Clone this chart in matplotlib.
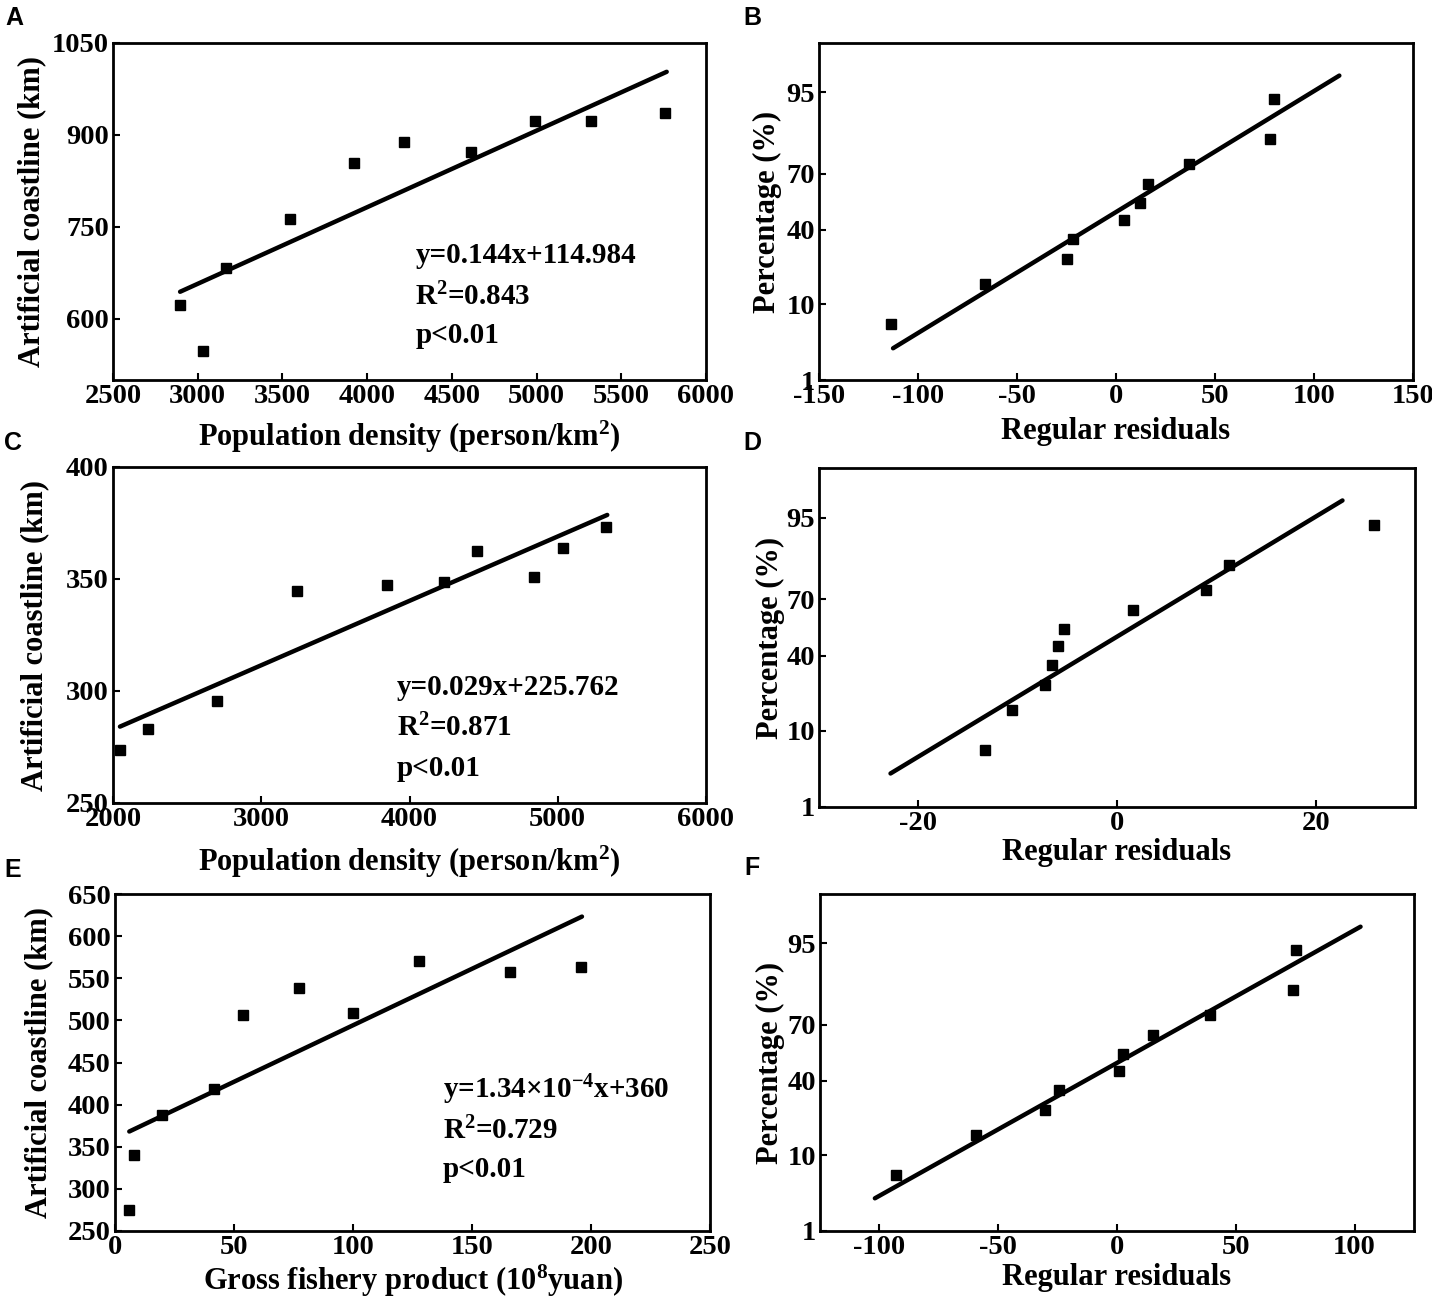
import numpy as np
import matplotlib
matplotlib.use("Agg")
import matplotlib.pyplot as plt
from statistics import NormalDist

plt.rcParams['font.family'] = ['Liberation Serif', 'DejaVu Serif']
plt.rcParams['font.weight'] = 'bold'
plt.rcParams['axes.labelweight'] = 'bold'
plt.rcParams['mathtext.fontset'] = 'custom'
plt.rcParams['mathtext.rm'] = 'Liberation Serif:bold'
plt.rcParams['mathtext.bf'] = 'Liberation Serif:bold'
plt.rcParams['mathtext.it'] = 'Liberation Serif:bold:italic'
plt.rcParams['axes.unicode_minus'] = False

# ---- panel A: population density vs artificial coastline
a_x = [2896, 3030, 3168, 3547, 3920, 4216, 4612, 4991, 5322, 5760]
a_y = [623, 547, 683, 763, 854, 888, 872, 922, 922, 936]
a_fit_x = [2896, 5768]
a_fit_y = [644, 1003]

# ---- panel C
c_x = [2047, 2233, 2700, 3241, 3846, 4233, 4457, 4841, 5036, 5328]
c_y = [273.5, 283, 295.5, 344.5, 347.2, 348.7, 362.6, 351.0, 363.8, 373.1]
c_fit_x = [2047, 5334]
c_fit_y = [284.1, 378.6]

# ---- panel E: gross fishery product
e_x = [6.0, 8.0, 19.9, 41.5, 53.8, 77.3, 99.9, 127.8, 165.9, 195.6]
e_y = [274.7, 340.3, 387.4, 418.6, 506.0, 538.9, 508.8, 570.2, 557.5, 563.4]
e_fit_x = [6.0, 196.2]
e_fit_y = [368.1, 623.2]

# ---- normal probability plots of residuals (B, D, F)
pct = [6.1, 15.9, 25.6, 35.4, 45.1, 54.9, 64.6, 74.4, 84.1, 93.9]
b_res = [-113.5, -66.0, -24.6, -21.9, 3.8, 12.3, 16.2, 36.8, 77.8, 79.9]
b_fit_x = [-112.6, 112.8]
b_fit_p = [2.95, 96.97]
d_res = [-13.24, -10.6, -7.21, -6.5, -5.96, -5.3, 1.63, 8.99, 11.3, 25.9]
d_fit_x = [-22.8, 22.7]
d_fit_p = [3.1, 97.0]
f_res = [-93.1, -59.2, -30.2, -24.3, 0.8, 2.6, 15.3, 39.0, 74.1, 75.4]
f_fit_x = [-101.9, 102.5]
f_fit_p = [3.04, 96.96]

prob_ticks = [1, 10, 40, 70, 95]

nd = NormalDist()
_ppf = np.vectorize(lambda p: nd.inv_cdf(min(max(p / 100.0, 1e-9), 1 - 1e-9)), otypes=[float])
_cdf = np.vectorize(lambda z: nd.cdf(z) * 100.0, otypes=[float])


def prob_forward(p):
    return _ppf(np.asarray(p, dtype=float))


def prob_inverse(z):
    return _cdf(np.asarray(z, dtype=float))


W, H = 1432, 1303
fig = plt.figure(figsize=(W / 100, H / 100), dpi=100)

LABEL_FS = 22
TEXT_FS = 21


def make_ax(l, r, t, b):
    return fig.add_axes([l / W, 1 - b / H, (r - l) / W, (b - t) / H])


def style(ax):
    for s in ax.spines.values():
        s.set_linewidth(2.0)
    ax.tick_params(direction='in', length=5, width=1.5, labelsize=20.5, pad=3)


def regression(ax, x, y, fx, fy, xlim, ylim, xticks, yticks, xlabel, eq, r2, tx, ty, lx, ly):
    ax.plot(x, y, 's', color='black', ms=7.5)
    ax.plot(fx, fy, '-', color='black', lw=3.2, solid_capstyle='round')
    ax.set_xlim(xlim)
    ax.set_ylim(ylim)
    ax.set_xticks(xticks)
    ax.set_yticks(yticks)
    ax.set_xlabel(xlabel, fontsize=LABEL_FS, va='center')
    ax.set_ylabel('Artificial coastline (km)', fontsize=LABEL_FS, va='center')
    ax.xaxis.set_label_coords(0.5, lx)
    ax.yaxis.set_label_coords(ly, 0.5)
    for i, s in enumerate([eq, r'R$^{2}$=' + r2, 'p<0.01']):
        ax.text(tx, ty[i], s, transform=ax.transAxes, fontsize=TEXT_FS, ha='left', va='center')
    style(ax)


def probplot(ax, res, fx, fp, xlim, xticks, lx, ly):
    ax.set_yscale('function', functions=(prob_forward, prob_inverse))
    ax.plot(res, pct, 's', color='black', ms=7.5)
    ax.plot(fx, fp, '-', color='black', lw=3.2, solid_capstyle='round')
    ax.set_xlim(xlim)
    ax.set_ylim(1, 99)
    ax.set_xticks(xticks)
    ax.set_yticks(prob_ticks)
    ax.set_yticklabels([str(t) for t in prob_ticks])
    ax.yaxis.set_minor_locator(matplotlib.ticker.NullLocator())
    ax.set_xlabel('Regular residuals', fontsize=LABEL_FS, va='center')
    ax.set_ylabel('Percentage (%)', fontsize=LABEL_FS, va='center')
    ax.xaxis.set_label_coords(0.5, lx)
    ax.yaxis.set_label_coords(ly, 0.5)
    style(ax)


axA = make_ax(113, 706, 43, 380)
regression(axA, a_x, a_y, a_fit_x, a_fit_y, (2500, 6000), (500, 1050),
           [2500, 3000, 3500, 4000, 4500, 5000, 5500, 6000], [600, 750, 900, 1050],
           r'Population density (person/km$^{2}$)', 'y=0.144x+114.984', '0.843',
           0.51, [0.368, 0.246, 0.131], -0.169, -0.137)

axB = make_ax(819, 1413, 43, 380)
probplot(axB, b_res, b_fit_x, b_fit_p, (-150, 150), [-150, -100, -50, 0, 50, 100, 150], -0.154, -0.086)

axC = make_ax(113, 706, 467, 803)
regression(axC, c_x, c_y, c_fit_x, c_fit_y, (2000, 6000), (250, 400),
           [2000, 3000, 4000, 5000, 6000], [250, 300, 350, 400],
           r'Population density (person/km$^{2}$)', 'y=0.029x+225.762', '0.871',
           0.479, [0.345, 0.223, 0.104], -0.176, -0.132)

axD = make_ax(819, 1415, 468, 807)
probplot(axD, d_res, d_fit_x, d_fit_p, (-30, 30), [-20, 0, 20], -0.133, -0.082)

axE = make_ax(115, 710, 894, 1231)
regression(axE, e_x, e_y, e_fit_x, e_fit_y, (0, 250), (250, 650),
           [0, 50, 100, 150, 200, 250], [250, 300, 350, 400, 450, 500, 550, 600, 650],
           r'Gross fishery product (10$^{8}$yuan)', r'y=1.34×10$^{-4}$x+360', '0.729',
           0.551, [0.42, 0.296, 0.183], -0.148, -0.129)

axF = make_ax(820, 1414, 894, 1231)
probplot(axF, f_res, f_fit_x, f_fit_p, (-125, 125), [-100, -50, 0, 50, 100], -0.139, -0.083)

for letter, px, py in [('A', 14, 18), ('B', 752, 18), ('C', 13, 443),
                       ('D', 752, 443), ('E', 13, 870), ('F', 752, 868)]:
    fig.text(px / W, 1 - py / H, letter, family='Liberation Sans', fontweight='bold',
             fontsize=18, ha='center', va='center')

fig.savefig('out.png', dpi=100)
